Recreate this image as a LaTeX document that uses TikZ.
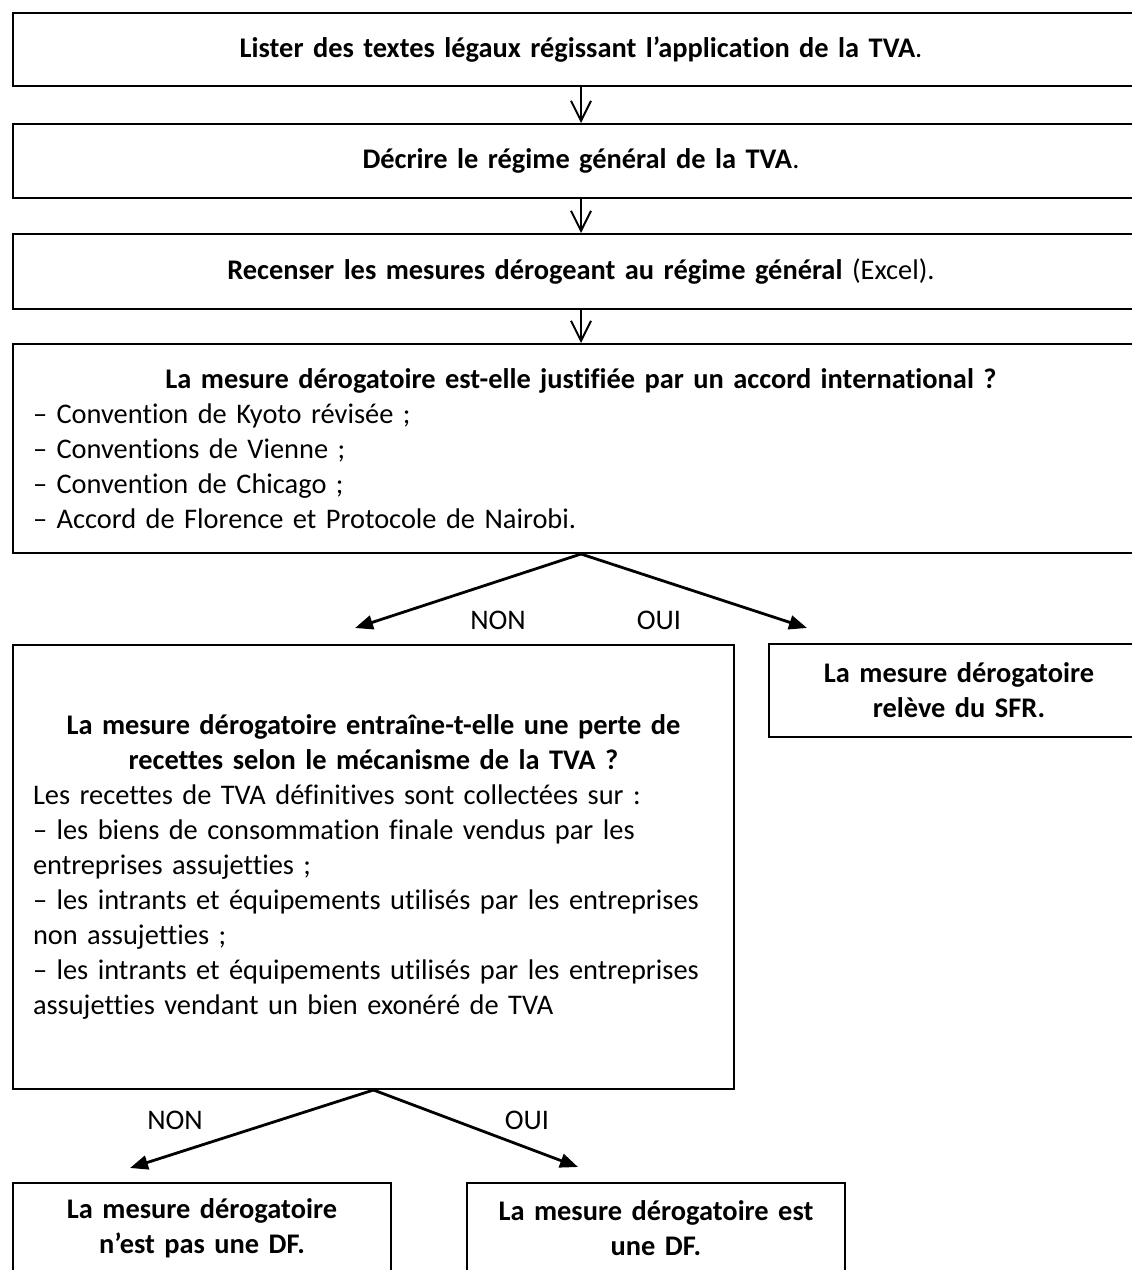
\documentclass[tikz,border=0pt]{standalone}
\usepackage{fontspec}
\setmainfont{Carlito}[Ligatures=NoCommon]
\usetikzlibrary{arrows.meta}

\begin{document}
\begin{tikzpicture}[x=0.5pt, y=-0.5pt, line width=1pt,
    font=\fontsize{14.2}{17.5}\selectfont,
    box/.style={draw, anchor=north west, inner xsep=10pt, inner ysep=0pt, align=center},
    widebox/.style={box, text width=548pt},
    down/.style={-{Straight Barb[length=10pt,width=10pt]}},
    branch/.style={line width=1.4pt, -{Triangle[length=9pt,width=7pt]}}]
  \useasboundingbox (0,0) rectangle (1131,1270);
  \draw (12,12) node[widebox, minimum height=36.5pt] (lister)
    {\textbf{Lister des textes légaux régissant l’application de la TVA}.};
  \draw (12,123) node[widebox, minimum height=37pt] (decrire)
    {\textbf{Décrire le régime général de la TVA}.};
  \draw (12,233) node[widebox, minimum height=37.5pt] (recenser)
    {\textbf{Recenser les mesures dérogeant au régime général} (Excel).};
  \draw (12,343) node[widebox, align=left, minimum height=104.5pt] (accord)
    {{\centering\bfseries La mesure dérogatoire est-elle justifiée par un accord international~?\par}
     – Convention de Kyoto révisée~;\\
     – Conventions de Vienne~;\\
     – Convention de Chicago~;\\
     – Accord de Florence et Protocole de Nairobi.};
  \draw (12,644) node[box, align=left, text width=340.5pt, minimum height=222pt] (perte)
    {{\centering\bfseries La mesure dérogatoire entraîne-t-elle une perte de\\
      recettes selon le mécanisme de la TVA~?\par}
     Les recettes de TVA définitives sont collectées sur~:\\
     – les biens de consommation finale vendus par les\\
     entreprises assujetties~;\\
     – les intrants et équipements utilisés par les entreprises\\
     non assujetties~;\\
     – les intrants et équipements utilisés par les entreprises\\
     assujetties vendant un bien exonéré de TVA};
  \draw (768,643) node[box, text width=170pt, minimum height=46.5pt, font=\fontsize{14.2}{17.5}\selectfont\bfseries] (sfr)
    {La mesure dérogatoire\\ relève du SFR.};
  \draw (12,1182) node[box, text width=169pt, minimum height=45pt, font=\fontsize{14.2}{17.5}\selectfont\bfseries] (pasdf)
    {La mesure dérogatoire\\ n’est pas une DF.};
  \draw (466,1182) node[box, text width=169pt, minimum height=45pt, font=\fontsize{14.2}{17.5}\selectfont\bfseries] (estdf)
    {La mesure dérogatoire est\\ une DF.};

  \draw[down] (lister) -- (decrire);
  \draw[down] (decrire) -- (recenser);
  \draw[down] (recenser) -- (accord);

  \coordinate (nonA) at (355,628);
  \coordinate (ouiA) at (807,628);
  \coordinate (nonB) at (130,1168);
  \coordinate (ouiB) at (578,1167);
  \draw[branch] (accord.south) -- (nonA);
  \draw[branch] (accord.south) -- (ouiA);
  \draw[branch] (perte.south) -- (nonB);
  \draw[branch] (perte.south) -- (ouiB);
  \draw (498,620) node (nonAl) {NON};
  \draw (659,620) node (ouiAl) {OUI};
  \draw (175,1120) node (nonBl) {NON};
  \draw (527,1120) node (ouiBl) {OUI};
\end{tikzpicture}
\end{document}
